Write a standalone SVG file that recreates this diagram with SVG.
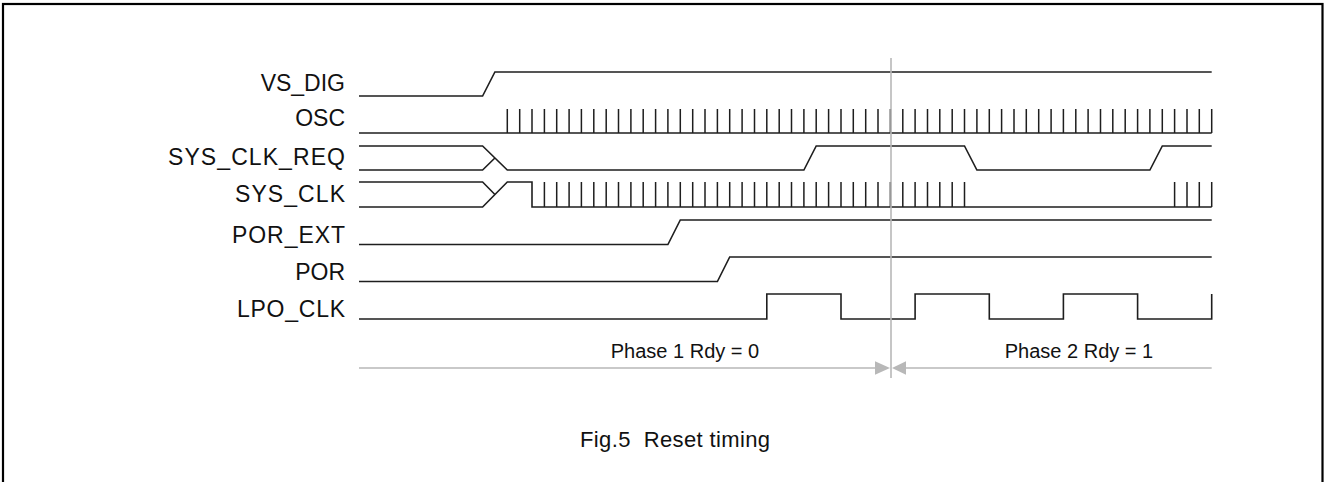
<svg xmlns="http://www.w3.org/2000/svg" width="1324" height="482" viewBox="0 0 1324 482">
<style>
.sig{fill:none;stroke:#1e1e1e;stroke-width:1.6;stroke-linejoin:miter}
.tick{fill:none;stroke:#1e1e1e;stroke-width:1.5}
.lbl{font-family:"Liberation Sans",Arial,Helvetica,sans-serif;font-size:23px;fill:#111;text-anchor:end}
.ph{font-family:"Liberation Sans",Arial,Helvetica,sans-serif;font-size:20px;fill:#111;text-anchor:middle}
.cap{font-family:"Liberation Sans",Arial,Helvetica,sans-serif;font-size:22px;fill:#111;text-anchor:start}
.guide{fill:none;stroke:#b8b8b8;stroke-width:1.6}
.head{fill:#b8b8b8;stroke:none}
</style>
<rect x="3" y="4" width="1319.5" height="500" fill="#fff" stroke="#000" stroke-width="2.2"/>
<g id="vs_dig">
<text class="lbl" x="345" y="91">VS_DIG</text>
<path class="sig" d="M359,96H482.6L494.9,72H1211.7"/>
</g>
<g id="osc">
<text class="lbl" x="345" y="126">OSC</text>
<path class="sig" d="M359,133H1211.7"/>
<path class="tick" d="M507.3,109V133M519.7,109V133M532,109V133M544.4,109V133M556.7,109V133M569.1,109V133M581.4,109V133M593.8,109V133M606.2,109V133M618.5,109V133M630.9,109V133M643.2,109V133M655.6,109V133M667.9,109V133M680.3,109V133M692.7,109V133M705,109V133M717.4,109V133M729.7,109V133M742.1,109V133M754.5,109V133M766.8,109V133M779.2,109V133M791.5,109V133M803.9,109V133M816.2,109V133M828.6,109V133M841,109V133M853.3,109V133M865.7,109V133M878,109V133M890.4,109V133M902.8,109V133M915.1,109V133M927.5,109V133M939.8,109V133M952.2,109V133M964.5,109V133M976.9,109V133M989.3,109V133M1001.6,109V133M1014,109V133M1026.3,109V133M1038.7,109V133M1051.1,109V133M1063.4,109V133M1075.8,109V133M1088.1,109V133M1100.5,109V133M1112.8,109V133M1125.2,109V133M1137.6,109V133M1149.9,109V133M1162.3,109V133M1174.6,109V133M1187,109V133M1199.3,109V133M1211.7,109V133"/>
</g>
<g id="sys_clk_req">
<text class="lbl" x="345" y="165" textLength="177" lengthAdjust="spacing">SYS_CLK_REQ</text>
<path class="sig" d="M359,146H482.6L507.3,170H803.9L816.2,146H964.5L976.9,170H1149.9L1162.3,146H1211.7"/>
<path class="sig" d="M359,170H482.6L494.9,158"/>
</g>
<g id="sys_clk">
<text class="lbl" x="345" y="202" textLength="110" lengthAdjust="spacing">SYS_CLK</text>
<path class="sig" d="M359,182H482.6L494.9,194.5"/>
<path class="sig" d="M359,207H482.6L507.3,182H532V207H1211.7"/>
<path class="tick" d="M544.4,182V207M556.7,182V207M569.1,182V207M581.4,182V207M593.8,182V207M606.2,182V207M618.5,182V207M630.9,182V207M643.2,182V207M655.6,182V207M667.9,182V207M680.3,182V207M692.7,182V207M705,182V207M717.4,182V207M729.7,182V207M742.1,182V207M754.5,182V207M766.8,182V207M779.2,182V207M791.5,182V207M803.9,182V207M816.2,182V207M828.6,182V207M841,182V207M853.3,182V207M865.7,182V207M878,182V207M890.4,182V207M902.8,182V207M915.1,182V207M927.5,182V207M939.8,182V207M952.2,182V207M964.5,182V207M1174.6,182V207M1187,182V207M1199.3,182V207M1211.7,182V207"/>
</g>
<g id="por_ext">
<text class="lbl" x="345" y="243" textLength="113" lengthAdjust="spacing">POR_EXT</text>
<path class="sig" d="M359,244.5H667.9L680.3,220H1211.7"/>
</g>
<g id="por">
<text class="lbl" x="345" y="280">POR</text>
<path class="sig" d="M359,281.5H717.4L729.7,257H1211.7"/>
</g>
<g id="lpo_clk">
<text class="lbl" x="345" y="317" textLength="108" lengthAdjust="spacing">LPO_CLK</text>
<path class="sig" d="M359,319H766.8V294H841V319H915.1V294H989.3V319H1063.4V294H1137.6V319H1211.7V294"/>
</g>
<g id="connectors">
<path class="guide" d="M891,58V378"/>
<path class="guide" d="M359,368H876M906,368H1211.7"/>
<path class="head" d="M875,361.3L890,368L875,374.7Z"/>
<path class="head" d="M906,361.3L892,368L906,374.7Z"/>
</g>
<text class="ph" x="685" y="358">Phase 1 Rdy = 0</text>
<text class="ph" x="1079" y="358">Phase 2 Rdy = 1</text>
<text class="cap" x="580" y="447" textLength="190" lengthAdjust="spacing" xml:space="preserve">Fig.5  Reset timing</text>
</svg>
